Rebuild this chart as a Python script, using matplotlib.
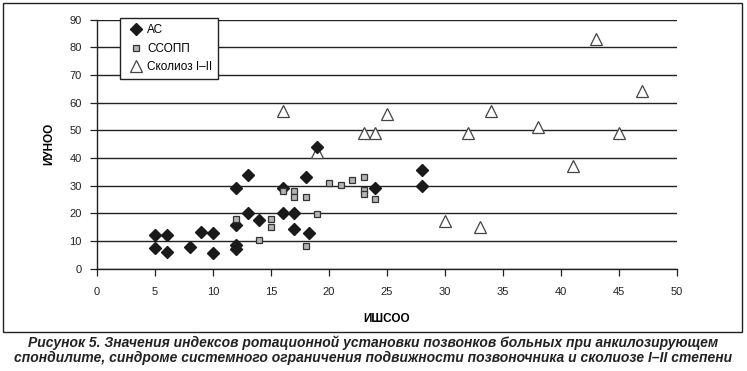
import matplotlib.pyplot as plt
from matplotlib.patches import Rectangle

# АС (ankylosing spondylitis)
as_x = [5, 5, 6, 6, 8, 9, 10, 10, 12, 12, 12, 12, 13, 13, 14, 16, 16, 17, 17, 18, 18.3, 19, 24, 28, 28]
as_y = [12, 7.5, 12, 6, 7.8, 13.2, 13, 5.5, 29, 15.8, 8.5, 7, 34, 20, 17.6, 29.2, 20, 20, 14.2, 33, 12.7, 44, 29.1, 35.7, 30]

# ССОПП
ss_x = [12, 14, 15, 15, 16, 17, 17, 18, 18, 19, 20, 21, 22, 23, 23, 23, 24]
ss_y = [18, 10.3, 18, 15, 28.2, 28.2, 26, 26, 8.3, 19.8, 31, 30.2, 32, 33.2, 28.3, 27, 25.2]

# Сколиоз I-II
sc_x = [16, 19, 23, 24, 25, 30, 32, 33, 34, 38, 41, 43, 45, 47]
sc_y = [57, 42, 49, 49, 56, 17.2, 49, 15.2, 57.1, 51.1, 36.9, 82.8, 49, 64.3]

xticks = [0, 5, 10, 15, 20, 25, 30, 35, 40, 45, 50]
yticks = [0, 10, 20, 30, 40, 50, 60, 70, 80, 90]

caption = ("Рисунок 5. Значения индексов ротационной установки позвонков больных при анкилозирующем\n"
           "спондилите, синдроме системного ограничения подвижности позвоночника и сколиозе I–II степени")

plt.rcParams['font.family'] = ['Liberation Sans', 'DejaVu Sans']

fig = plt.figure(figsize=(7.47, 3.71), dpi=100)
ax = fig.add_axes([0.1299, 0.276, 0.7764, 0.6714])

# outer frame around chart area
fig.patches.append(Rectangle((0.004, 0.105), 0.989, 0.887, transform=fig.transFigure,
                             fill=False, edgecolor='#222222', linewidth=1.0))

ax.plot(as_x, as_y, 'D', color='#1a1a1a', ms=6.5, mec='#1a1a1a', label='АС', zorder=3)
ax.plot(ss_x, ss_y, 's', color='#b4b4b4', ms=5, mec='#333333', mew=0.9, label='ССОПП', zorder=4)
ax.plot(sc_x, sc_y, '^', mfc='white', mec='#444444', ms=8, mew=0.9,
        label='Сколиоз I–II', zorder=2)

ax.set_xlim(0, 50)
ax.set_ylim(0, 90)
ax.set_xticks(xticks)
ax.set_yticks(yticks)
ax.tick_params(labelsize=8, length=5, width=0.9, colors='#222222', pad=8)
ax.tick_params(axis='y', pad=6)
ax.grid(axis='y', color='#222222', linewidth=1.0)
ax.set_axisbelow(True)
for s in ['top', 'right']:
    ax.spines[s].set_visible(False)
for s in ['left', 'bottom']:
    ax.spines[s].set_linewidth(1.0)
    ax.spines[s].set_color('#222222')

ax.set_xlabel('ИШСОО', fontsize=8.5, fontweight='bold', labelpad=12)
ax.set_ylabel('ИУНОО', fontsize=8.5, fontweight='bold', labelpad=10)

leg = ax.legend(loc='upper left', bbox_to_anchor=(0.04, 1.005), fontsize=8.5, frameon=True,
                fancybox=False, edgecolor='#222222', framealpha=1, borderpad=0.5,
                labelspacing=0.55, handletextpad=0.2, handlelength=1.6, borderaxespad=0)
leg.get_frame().set_linewidth(1.0)

fig.text(0.5, 0.015, caption, ha='center', va='bottom', fontsize=10,
         fontweight='bold', fontstyle='italic', color='#222222', linespacing=1.15)

plt.savefig('out.png', dpi=100)
